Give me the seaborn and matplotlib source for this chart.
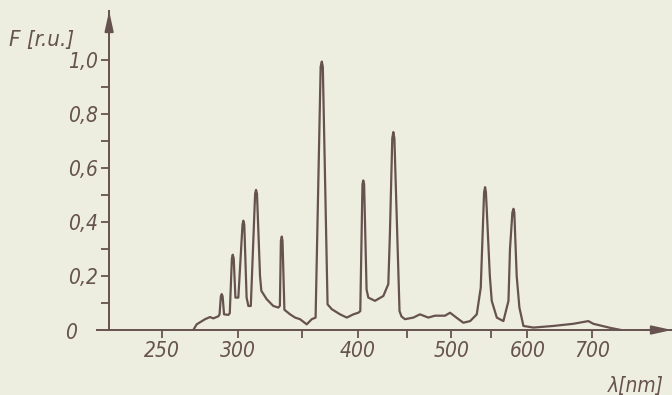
"""Hg lamp emission spectrum, redrawn from a scanned figure."""

import matplotlib

matplotlib.use("Agg")

import matplotlib.pyplot as plt  # noqa: E402
import pandas as pd  # noqa: E402
import seaborn as sns  # noqa: E402
from matplotlib.ticker import FixedFormatter, FixedLocator, NullLocator  # noqa: E402

# values (x axis is logarithmic in wavelength)
wavelength_nm = [
    269.6, 271.8, 277.3, 280.6, 282.9, 286.3, 287.1, 288.0, 288.6, 289.2,
    290.2, 293.2, 294.2, 295.7, 296.3, 297.0, 298.2, 300.3, 303.3, 303.9,
    304.6, 306.3, 307.6, 309.4, 312.6, 313.3, 314.0, 316.3, 317.3, 321.4,
    326.5, 330.5, 331.7, 332.5, 333.2, 333.8, 335.3, 339.9, 344.0, 348.1,
    353.7, 358.0, 361.3, 365.7, 366.7, 367.6, 371.8, 375.6, 383.1, 389.3,
    395.5, 400.2, 402.1, 404.2, 405.0, 405.8, 408.2, 409.9, 416.5, 424.9,
    430.0, 431.6, 434.1, 435.2, 436.3, 441.7, 443.8, 447.5, 456.6, 463.8,
    473.2, 480.8, 492.5, 498.5, 506.5, 514.6, 523.1, 531.4, 536.5, 540.8,
    542.1, 543.2, 548.3, 550.8, 557.5, 566.4, 573.3, 575.4, 578.7, 580.2,
    581.4, 584.7, 588.5, 594.2, 608.6, 638.3, 669.6, 694.1, 702.5, 731.2,
    750.5,
]
intensity_ru = [
    0.000, 0.021, 0.040, 0.048, 0.043, 0.051, 0.058, 0.125, 0.133, 0.125,
    0.058, 0.056, 0.062, 0.265, 0.279, 0.265, 0.120, 0.120, 0.390, 0.405,
    0.390, 0.120, 0.089, 0.089, 0.505, 0.519, 0.505, 0.200, 0.145, 0.114,
    0.089, 0.083, 0.090, 0.330, 0.346, 0.330, 0.075, 0.058, 0.046, 0.040,
    0.021, 0.040, 0.046, 0.975, 0.994, 0.975, 0.095, 0.077, 0.058, 0.046,
    0.058, 0.064, 0.070, 0.540, 0.554, 0.540, 0.150, 0.120, 0.108, 0.126,
    0.170, 0.350, 0.710, 0.733, 0.710, 0.070, 0.050, 0.040, 0.046, 0.058,
    0.046, 0.053, 0.053, 0.064, 0.045, 0.027, 0.033, 0.058, 0.157, 0.510,
    0.529, 0.510, 0.200, 0.108, 0.046, 0.033, 0.108, 0.300, 0.435, 0.449,
    0.435, 0.200, 0.083, 0.015, 0.009, 0.015, 0.023, 0.033, 0.023, 0.008,
    0.000,
]

x_ticks = [250, 300, 350, 400, 450, 500, 550, 600, 700]
x_tick_labels = ["250", "300", "", "400", "", "500", "", "600", "700"]
y_ticks = [0.2, 0.4, 0.6, 0.8, 1.0]
y_tick_labels = ["0,2", "0,4", "0,6", "0,8", "1,0"]
y_minor_ticks = [0.1, 0.3, 0.5, 0.7, 0.9]

PAPER = "#eeeee0"
INK = "#66524f"

sns.set_theme(style="ticks")
plt.rcParams["font.family"] = ["Liberation Sans Narrow", "DejaVu Sans"]
plt.rcParams["font.style"] = "italic"
plt.rcParams["font.stretch"] = "condensed"

W, H = 672, 395
fig = plt.figure(figsize=(W / 100, H / 100), dpi=100, facecolor=PAPER)
# axes box in pixels: x axis from 97 to 672, y from 330 (zero) up to 11
ax = fig.add_axes([97 / W, (H - 330) / H, (W - 97) / W, (330 - 11) / H])
ax.set_facecolor(PAPER)
ax.set_xscale("log")
ax.set_xlim(214.1, 848.0)
ax.set_ylim(0, (330 - 11) / 270)

df = pd.DataFrame({"wavelength": wavelength_nm, "intensity": intensity_ru})
sns.lineplot(data=df, x="wavelength", y="intensity", ax=ax, color=INK,
             linewidth=1.6, estimator=None, sort=False, solid_joinstyle="round")
ax.set_xlabel("")
ax.set_ylabel("")

for side in ("top", "right"):
    ax.spines[side].set_visible(False)
for side in ("left", "bottom"):
    ax.spines[side].set_color(INK)
    ax.spines[side].set_linewidth(1.4)
ax.spines["left"].set_position(("data", 220.4))

ax.xaxis.set_major_locator(FixedLocator(x_ticks))
ax.xaxis.set_major_formatter(FixedFormatter(x_tick_labels))
ax.xaxis.set_minor_locator(NullLocator())
ax.yaxis.set_major_locator(FixedLocator(y_ticks))
ax.yaxis.set_major_formatter(FixedFormatter(y_tick_labels))
ax.yaxis.set_minor_locator(FixedLocator(y_minor_ticks))
ax.tick_params(which="both", direction="out", length=6, width=1.3,
               color=INK, labelcolor=INK, labelsize=15, pad=2)

# arrow heads on both axes
arrow = dict(arrowstyle="-|>,head_length=1.0,head_width=0.22", color=INK,
             lw=1.4, shrinkA=0, shrinkB=0)
ax.annotate("", xy=(1.0, 0), xytext=(0.95, 0), xycoords="axes fraction",
            arrowprops=arrow, annotation_clip=False)
ax.annotate("", xy=(220.4, 1.0), xytext=(220.4, 0.93),
            xycoords=("data", "axes fraction"), arrowprops=arrow,
            annotation_clip=False)

fig.text(77 / W, 1 - 333 / H, "0", ha="right", va="center", fontsize=15, color=INK)
fig.text(9 / W, 1 - 40 / H, "F [r.u.]", ha="left", va="center", fontsize=16, color=INK)
fig.text(636 / W, 1 - 386 / H, "λ[nm]", ha="center", va="center", fontsize=15, color=INK)

fig.savefig("out.png", dpi=100, facecolor=PAPER)
